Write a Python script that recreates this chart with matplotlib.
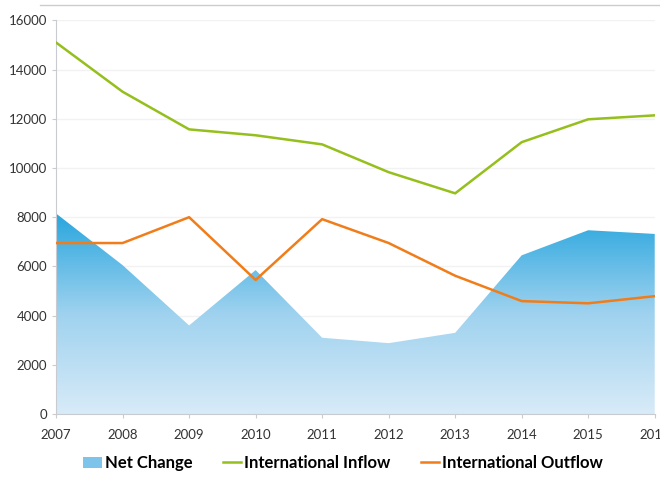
import numpy as np
import matplotlib.pyplot as plt
from matplotlib.colors import LinearSegmentedColormap
from matplotlib.patches import Patch
from matplotlib.lines import Line2D

years = [2007, 2008, 2009, 2010, 2011, 2012, 2013, 2014, 2015, 2016]
net_change = [8150, 6050, 3600, 5850, 3100, 2880, 3300, 6450, 7470, 7320]
inflow = [15100, 13100, 11570, 11330, 10960, 9830, 8970, 11050, 11980, 12140]
outflow = [6950, 6950, 8000, 5450, 7920, 6950, 5620, 4590, 4500, 4790]

yticks = [0, 2000, 4000, 6000, 8000, 10000, 12000, 14000, 16000]

plt.rcParams['font.family'] = ['Lato', 'DejaVu Sans']

fig = plt.figure(figsize=(6.6, 4.8), dpi=100)
ax = fig.add_axes([0.085, 0.1375, 0.907, 0.82])

# gradient fill for net change
fill = ax.fill_between(years, net_change, 0, color='none', lw=0)
cmap = LinearSegmentedColormap.from_list('net', ['#d8ebf8', '#9fd2ef', '#28a6de'])
grad = np.linspace(0, 1, 256).reshape(-1, 1)
img = ax.imshow(grad, cmap=cmap, origin='lower', aspect='auto',
                extent=[years[0], years[-1], 0, max(net_change)], zorder=1)
img.set_clip_path(fill.get_paths()[0], transform=ax.transData)

ax.plot(years, inflow, color='#95bf1c', lw=1.8, zorder=3)
ax.plot(years, outflow, color='#f07d1a', lw=1.8, zorder=3)

ax.set_xlim(years[0], years[-1])
ax.set_ylim(0, 16000)
ax.set_xticks(years)
ax.set_yticks(yticks)
ax.tick_params(labelsize=9.5, colors='#333333', length=3)
ax.tick_params(axis='x', pad=8, color='#cccccc')
ax.tick_params(axis='y', color='#cccccc')
ax.grid(axis='y', color='#f2f2f2', lw=1)
ax.set_axisbelow(True)
for s in ['top', 'right']:
    ax.spines[s].set_visible(False)
for s in ['left', 'bottom']:
    ax.spines[s].set_color('#c8cbd0')

# gray rule at the top of the picture
fig.add_artist(Line2D([0.06, 1.0], [0.99, 0.99], color='#cccccc', lw=1))

handles = [Patch(facecolor='#7ec4ea', edgecolor='none'),
           Line2D([], [], color='#95bf1c', lw=1.8),
           Line2D([], [], color='#f07d1a', lw=1.8)]
labels = ['Net Change', 'International Inflow', 'International Outflow']
fig.legend(handles, labels, loc='center', bbox_to_anchor=(0.52, 0.035), ncol=3,
           frameon=False, prop={'size': 12, 'weight': 'bold'},
           handlelength=1.1, handletextpad=0.2, columnspacing=1.8)

fig.savefig('out.png', dpi=100)
